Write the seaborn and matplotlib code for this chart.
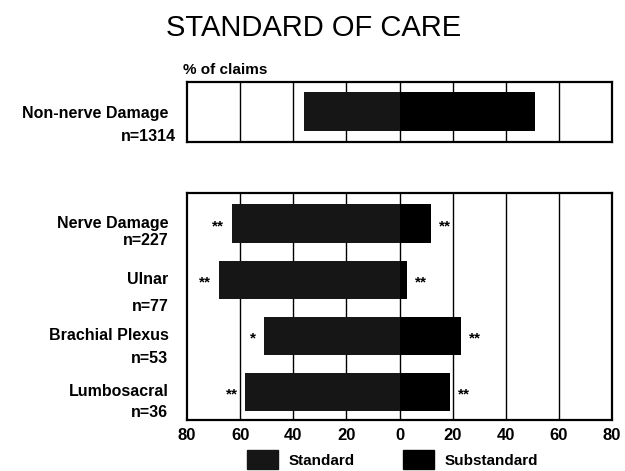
import numpy as np
import pandas as pd
import matplotlib.pyplot as plt
import seaborn as sns
from matplotlib.patches import Patch

# values (% of claims)
top_cats = ["Non-nerve Damage"]
top_n = ["n=1314"]
top_standard = [36]
top_substandard = [51]

cats = ["Nerve Damage", "Ulnar", "Brachial Plexus", "Lumbosacral"]
cat_n = ["n=227", "n=77", "n=53", "n=36"]
standard = [63, 68, 51, 58]
substandard = [12, 3, 23, 19]
left_marks = ["**", "**", "*", "**"]
right_marks = ["**", "**", "**", "**"]

ticks = [-80, -60, -40, -20, 0, 20, 40, 60, 80]
tick_labels = ["80", "60", "40", "20", "0", "20", "40", "60", "80"]

sns.set_style("white")
plt.rcParams['font.family'] = ['Liberation Sans', 'DejaVu Sans']
plt.rcParams['font.weight'] = 'bold'
plt.rcParams['text.color'] = 'black'
plt.rcParams['xtick.color'] = 'black'

std_color = "#161616"
sub_color = "#000000"

fig = plt.figure(figsize=(6.25, 4.71), dpi=100)
ax_top = fig.add_axes([0.2992, 0.6985, 0.68, 0.1274])
ax_bot = fig.add_axes([0.2992, 0.1083, 0.68, 0.482])


def draw_panel(ax, names, std, sub):
    df = pd.DataFrame({"cat": names, "std": -np.array(std), "sub": sub})
    sns.barplot(data=df, x="std", y="cat", color=std_color, width=0.69,
                saturation=1, linewidth=0, ax=ax, zorder=2)
    sns.barplot(data=df, x="sub", y="cat", color=sub_color, width=0.69,
                saturation=1, linewidth=0, ax=ax, zorder=2)
    for t in ticks[1:-1]:
        ax.axvline(t, color="black", lw=1.0, zorder=0.5)
    ax.set_xlim(-80, 80)
    ax.set_xlabel("")
    ax.set_ylabel("")
    ax.set_yticks([])
    for s in ax.spines.values():
        s.set_color("black")
        s.set_linewidth(1.6)


draw_panel(ax_top, top_cats, top_standard, top_substandard)
ax_top.set_ylim(0.545, -0.527)
ax_top.set_xticks([])

draw_panel(ax_bot, cats, standard, substandard)
ax_bot.set_ylim(3.5, -0.55)
ax_bot.set_xticks(ticks)
ax_bot.set_xticklabels(tick_labels, fontsize=12, fontweight="bold")
ax_bot.tick_params(axis="x", length=0, pad=6)

# category labels (name on the bar, n just below)
lab_x = -87
for i, (nm, n) in enumerate(zip(top_cats, top_n)):
    ax_top.text(lab_x, i + 0.03, nm, ha="right", va="center", fontsize=11.5,
                fontweight="bold", clip_on=False)
    ax_top.text(lab_x + 3, i + 0.44, n, ha="right", va="center",
                fontsize=11.5, fontweight="bold", clip_on=False)
n_off = [0.3, 0.47, 0.41, 0.36]
for i, (nm, n) in enumerate(zip(cats, cat_n)):
    ax_bot.text(lab_x, i, nm, ha="right", va="center",
                fontsize=11.5, fontweight="bold", clip_on=False)
    ax_bot.text(lab_x, i + n_off[i], n, ha="right", va="center",
                fontsize=11.5, fontweight="bold", clip_on=False)

# significance marks
for i in range(len(cats)):
    ax_bot.text(-standard[i] - 3, i + 0.05, left_marks[i], ha="right",
                va="center", fontsize=11, fontweight="bold")
    ax_bot.text(substandard[i] + 3, i + 0.05, right_marks[i], ha="left",
                va="center", fontsize=11, fontweight="bold")

fig.text(0.502, 0.94, "STANDARD OF CARE", ha="center", va="center",
         fontsize=21, fontweight="normal")
fig.text(0.2935, 0.851, "% of claims", ha="left", va="center",
         fontsize=11, fontweight="bold")

handles = [Patch(facecolor=std_color, edgecolor=std_color),
           Patch(facecolor=sub_color, edgecolor=sub_color)]
fig.legend(handles, ["Standard", "Substandard"], loc="center",
           bbox_to_anchor=(0.628, 0.024), ncol=2, frameon=False,
           handlelength=2.0, handleheight=1.5, handletextpad=0.7,
           columnspacing=3.2, borderpad=0.1,
           prop={"weight": "bold", "size": 11})

fig.savefig("out.png", dpi=100)
